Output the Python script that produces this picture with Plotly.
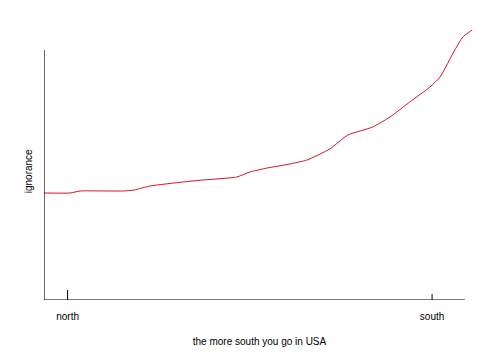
import plotly.graph_objects as go

# Data (arbitrary units: x 0..100 along the axis, y 0..100 up the axis)
curve_x = [0, 6.2, 8.6, 18.8, 21.4, 25.2, 33.0, 37.8, 45.8, 48.9, 53.0, 58.4, 62.5,
           67.9, 72.2, 78.1, 82.2, 86.9, 91.7, 94.1, 97.6, 99.5, 101.7]
curve_y = [42.8, 42.8, 43.6, 43.6, 44.0, 45.6, 47.2, 48.0, 49.2, 51.2, 52.8, 54.4, 56.0,
           60.4, 66.0, 69.2, 73.2, 79.2, 85.2, 89.2, 100.0, 105.2, 108.0]
tick_positions = [5.6, 92.2]
tick_labels = ["north", "south"]
x_title = "the more south you go in USA"
y_title = "ignorance"

FONT = "Liberation Sans, Arial, sans-serif"

fig = go.Figure()
fig.add_trace(go.Scatter(x=curve_x, y=curve_y, mode="lines",
                         line=dict(color="#d41228", width=1, shape="spline", smoothing=0.5),
                         hoverinfo="skip", showlegend=False))

shapes = [
    # axis lines
    dict(type="line", xref="x", yref="y", x0=0, x1=100, y0=0, y1=0,
         line=dict(color="black", width=1.2)),
    dict(type="line", xref="x", yref="y", x0=0, x1=0, y0=0, y1=100,
         line=dict(color="black", width=1.2)),
]
# tick marks crossing the x axis
tick_spans = [(-2.0, 4.0), (-2.8, 2.4)]
for tx, (y0, y1) in zip(tick_positions, tick_spans):
    shapes.append(dict(type="line", xref="x", yref="y", x0=tx, x1=tx, y0=y0, y1=y1,
                       line=dict(color="black", width=1)))

# the page body adds an 8px offset, so the figure is 8px smaller and margins compensate
fig.update_layout(
    width=493, height=354,
    margin=dict(l=36, r=26, t=17, b=62),
    paper_bgcolor="white", plot_bgcolor="white",
    font=dict(family=FONT, size=10, color="black"),
    shapes=shapes,
    xaxis=dict(range=[0, 102.4], showline=False, showgrid=False, zeroline=False,
               ticks="", tickvals=tick_positions, ticktext=tick_labels,
               tickfont=dict(size=10, family=FONT, color="black"),
               ticklabelstandoff=9,
               title=dict(text=x_title, font=dict(size=10, family=FONT, color="black"),
                          standoff=16)),
    yaxis=dict(range=[0, 110], showline=False, showgrid=False, zeroline=False,
               ticks="", showticklabels=False),
    annotations=[dict(text=y_title, xref="paper", yref="y", x=0, y=51.5,
                      xanchor="center", yanchor="middle", xshift=-16, textangle=-90,
                      showarrow=False, font=dict(size=10, family=FONT, color="black"))],
)

fig.write_html("out.html")
